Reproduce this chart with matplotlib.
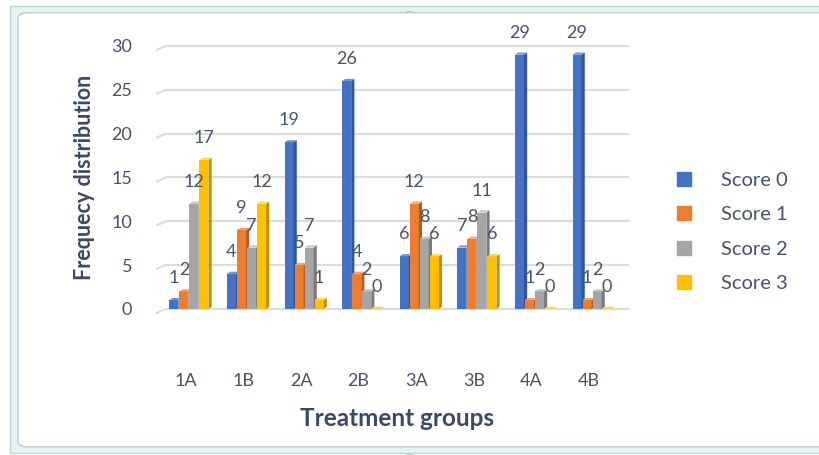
import numpy as np
import matplotlib
matplotlib.use("Agg")
import matplotlib.pyplot as plt
from matplotlib.patches import FancyBboxPatch, Patch, Rectangle

plt.rcParams['font.family'] = ['Lato', 'DejaVu Sans']

groups = ['1A', '1B', '2A', '2B', '3A', '3B', '4A', '4B']
series = ['Score 0', 'Score 1', 'Score 2', 'Score 3']
score0 = [1, 4, 19, 26, 6, 7, 29, 29]
score1 = [2, 9, 5, 4, 12, 8, 1, 1]
score2 = [12, 7, 7, 2, 8, 11, 2, 2]
score3 = [17, 12, 1, 0, 6, 6, 0, 0]
values = [score0, score1, score2, score3]

face_cols = ['#4472C4', '#ED7D31', '#A5A5A5', '#FFC000']
side_cols = ['#2F5597', '#B85A1E', '#7B7B7B', '#BF9000']
top_cols = ['#6F93D6', '#F4A26F', '#C4C4C4', '#FFD54F']
txt = '#44546A'

fig = plt.figure(figsize=(8.2, 4.55), dpi=100)
# chart frame: light band + white rounded panel
fig.patches.append(Rectangle((0.012, 0.004), 1.0, 0.982, transform=fig.transFigure,
                             fc='#e2f4f5', ec='#c5d2d4', lw=1.0, zorder=-2))
fig.patches.append(FancyBboxPatch((0.022, 0.018), 0.99, 0.954,
                                  boxstyle='round,pad=0,rounding_size=0.012',
                                  transform=fig.transFigure, fc='white',
                                  ec='#bfcbcd', lw=1.0, zorder=-1))
fig.text(0.5, 0.979, '....', ha='center', va='center', fontsize=6, color='#8a9a9a')
fig.text(0.5, 0.006, '....', ha='center', va='center', fontsize=6, color='#8a9a9a')

ax = fig.add_axes([0.202, 0.321, 0.564, 0.578])
ax.patch.set_visible(False)
ax.set_xlim(-0.43, 7.6)
ax.set_ylim(0, 30)

pitch = 0.174
w = 0.157
dx = 0.055
dy = 0.25
x = np.arange(len(groups))

for yv in range(0, 31, 5):
    ax.plot([-0.43, 7.6], [yv, yv], color='#dcdcdc', lw=1.5, zorder=0, clip_on=False)
    ax.plot([-0.58, -0.43], [yv - 0.45, yv], color='#dcdcdc', lw=1.5, zorder=0, clip_on=False)

for k, vals in enumerate(values):
    left = x + (k - 2) * pitch - 0.017
    ax.bar(left, vals, width=w, align='edge', color=face_cols[k], lw=0, zorder=3)
    for xl, v in zip(left, vals):
        xr = xl + w
        ax.fill([xr, xr + dx, xr + dx, xr], [0, dy, v + dy, v],
                color=side_cols[k], lw=0, zorder=3)
        ax.fill([xl, xl + dx, xr + dx, xr], [v, v + dy, v + dy, v],
                color=top_cols[k], lw=0, zorder=3)
        ax.annotate(str(v), (xl + w / 2, v), xytext=(0, 10),
                    textcoords='offset points', ha='center', va='bottom',
                    fontsize=13, color=txt, zorder=4)

for s in ax.spines.values():
    s.set_visible(False)
ax.set_yticks(range(0, 31, 5))
ax.set_xticks(x - 0.08)
ax.set_xticklabels(groups)
ax.tick_params(axis='both', length=0, labelsize=13, labelcolor=txt)
ax.tick_params(axis='y', pad=24)
ax.tick_params(axis='x', pad=46)
ax.set_xlabel('Treatment groups', fontsize=17.5, fontweight='bold', color='#3b4a63', labelpad=13)
ax.set_ylabel('Frequecy distribution', fontsize=15.5, fontweight='bold', color='#3b4a63', labelpad=12)

handles = [Patch(color=c) for c in face_cols]
leg = fig.legend(handles, series, loc='center left', bbox_to_anchor=(0.803, 0.49),
                 frameon=False, fontsize=14.5, labelcolor=txt, handlelength=0.7,
                 handleheight=0.7, handletextpad=1.5, labelspacing=0.85)

fig.savefig('out.png', dpi=100)
